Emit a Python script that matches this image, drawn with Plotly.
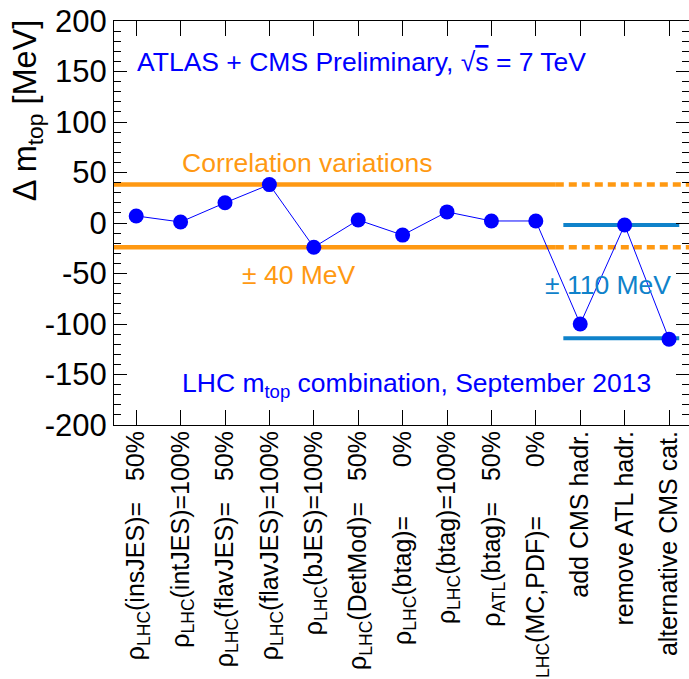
import plotly.graph_objects as go

# ---- data ----
categories = [
    "ρ<sub>LHC</sub>(insJES)=\u2007 50%",
    "ρ<sub>LHC</sub>(intJES)=100%",
    "ρ<sub>LHC</sub>(flavJES)=\u2007 50%",
    "ρ<sub>LHC</sub>(flavJES)=100%",
    "ρ<sub>LHC</sub>(bJES)=100%",
    "ρ<sub>LHC</sub>(DetMod)=\u2007 50%",
    "ρ<sub>LHC</sub>(btag)=\u2007\u2007\u2007 0%",
    "ρ<sub>LHC</sub>(btag)=100%",
    "ρ<sub>ATL</sub>(btag)=\u2007 50%",
    "ρ<sub>LHC</sub>(MC,PDF)=\u2007\u2007\u2007 0%",
    "add CMS hadr.",
    "remove ATL hadr.",
    "alternative CMS cat.",
]
positions = list(range(1, len(categories) + 1))
delta_mtop = [7, 1, 20, 38, -24, 3, -12, 11, 2, 2, -100, -2, -115]

corr_band = [38, -24]        # orange lines (correlation variations, ±40 MeV)
corr_solid_x = [0.5, 10.45]
corr_dash_x = [10.45, 13.45]
alt_band = [-2, -114]        # azure lines (±110 MeV)
alt_x = [10.62, 13.23]

y_ticks = [-200, -150, -100, -50, 0, 50, 100, 150, 200]
y_ticktext = ["-200", "-150", "-100", "-50", "0", "50", "100", "150", "200"]

ORANGE = "#FF9912"
AZURE = "#0F82CA"
BLUE = "#0000FF"
FONT = "Liberation Sans, Arial, sans-serif"

fig = go.Figure()

for yv in corr_band:
    fig.add_trace(go.Scatter(x=corr_solid_x, y=[yv, yv], mode="lines",
                             line=dict(color=ORANGE, width=4.5), hoverinfo="skip"))
    fig.add_trace(go.Scatter(x=corr_dash_x, y=[yv, yv], mode="lines",
                             line=dict(color=ORANGE, width=4.5, dash="8px,5px"), hoverinfo="skip"))
for yv in alt_band:
    fig.add_trace(go.Scatter(x=alt_x, y=[yv, yv], mode="lines",
                             line=dict(color=AZURE, width=4), hoverinfo="skip"))

fig.add_trace(go.Scatter(
    x=positions, y=delta_mtop, mode="lines+markers",
    line=dict(color=BLUE, width=1),
    marker=dict(color=BLUE, size=15, line=dict(width=0)),
))

ann_font = dict(family=FONT, size=26.5)
annotations = [
    dict(x=0.98, y=159,
         text="ATLAS + CMS Preliminary, √<span style=\"text-decoration:overline\">s</span> = 7 TeV",
         xanchor="left", yanchor="middle", font=dict(ann_font, color=BLUE)),
    dict(x=1.99, y=59, text="Correlation variations", xanchor="left",
         yanchor="middle", font=dict(ann_font, color=ORANGE)),
    dict(x=3.34, y=-51.5, text="± 40 MeV", xanchor="left",
         yanchor="middle", font=dict(ann_font, color=ORANGE)),
    dict(x=13.09, y=-61, text="± 110 MeV", xanchor="right",
         yanchor="middle", font=dict(ann_font, color=AZURE)),
    dict(x=1.99, y=-160, text="LHC m<sub>top</sub> combination, September 2013", xanchor="left",
         yanchor="middle", font=dict(ann_font, color=BLUE)),
    dict(xref="paper", yref="paper", x=-0.149, y=1.01, xanchor="center", yanchor="top",
         textangle=-90, text="Δ m<sub>top</sub> [MeV]",
         font=dict(family=FONT, size=32.5, color="black")),
]
for a in annotations:
    a.setdefault("xref", "x")
    a.setdefault("yref", "y")
    a["showarrow"] = False

fig.update_layout(
    width=689, height=679,
    margin=dict(l=114, r=0, t=21, b=254, autoexpand=False),
    paper_bgcolor="white", plot_bgcolor="white",
    showlegend=False,
    annotations=annotations,
    font=dict(family=FONT, color="black"),
)
fig.update_xaxes(
    range=[0.5, 13.45], tickmode="array", tickvals=positions, ticktext=categories,
    tickangle=-90, tickfont=dict(family=FONT, size=25, color="black"),
    ticks="inside", ticklen=15, tickwidth=1, tickcolor="black",
    showline=True, linecolor="black", linewidth=1, mirror="allticks",
    showgrid=False, zeroline=False, automargin=False, ticklabelstandoff=-5,
)
fig.update_yaxes(
    range=[-200, 200], tickmode="array", tickvals=y_ticks, ticktext=y_ticktext,
    tickfont=dict(family=FONT, size=31, color="black"),
    ticks="inside", ticklen=13, tickwidth=1, tickcolor="black",
    minor=dict(dtick=10, ticklen=7, ticks="inside", tickcolor="black", showgrid=False),
    showline=True, linecolor="black", linewidth=1, mirror="allticks",
    showgrid=False, zeroline=False, automargin=False, ticklabelstandoff=0,
)

fig.write_html("out.html", config={"displayModeBar": False},
               post_script="document.body.style.margin='0';")
